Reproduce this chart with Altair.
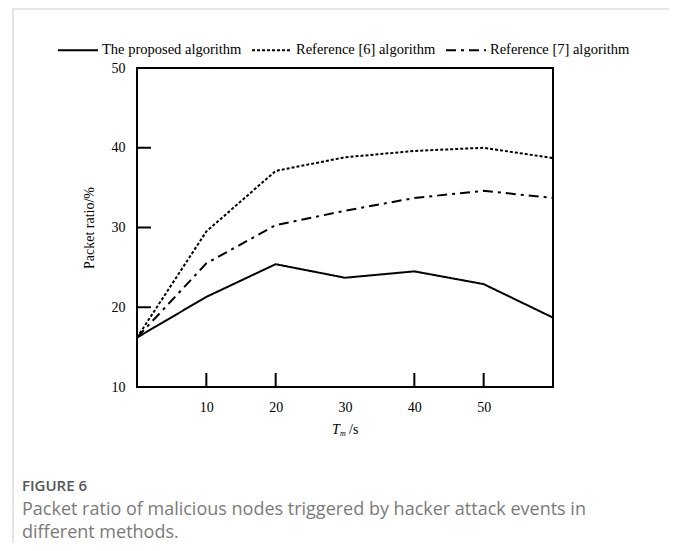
import altair as alt
import pandas as pd

# ---- data ----
time_s = [0, 10, 20, 30, 40, 50, 60]
proposed = [16.2, 21.3, 25.4, 23.7, 24.5, 22.9, 18.7]
ref6 = [16.2, 29.5, 37.1, 38.8, 39.6, 40.0, 38.7]
ref7 = [16.2, 25.5, 30.3, 32.1, 33.7, 34.6, 33.7]
series_names = ["The proposed algorithm", "Reference [6] algorithm", "Reference [7] algorithm"]
x_tick_labels = [10, 20, 30, 40, 50]
y_tick_labels = [10, 20, 30, 40, 50]
x_tick_marks = [10, 20, 40, 50]
y_tick_marks = [20, 30, 40]
caption_title = "FIGURE 6"
caption_lines = ["Packet ratio of malicious nodes triggered by hacker attack events in",
                 "different methods."]

rows = []
for name, vals in zip(series_names, [proposed, ref6, ref7]):
    for t, v in zip(time_s, vals):
        rows.append({"t": t, "v": v, "series": name})
df = pd.DataFrame(rows)

W, H = 416, 319
SERIF = "Liberation Serif"
SANS = "Open Sans"

xscale = alt.Scale(domain=[0, 60], nice=False, zero=False)
yscale = alt.Scale(domain=[10, 50], nice=False, zero=False)

x_axis = alt.Axis(values=x_tick_labels, ticks=False, domain=False, grid=False,
                  labelFont=SERIF, labelFontSize=14, labelFontWeight="normal", labelColor="black",
                  labelPadding=13, title=None)
y_axis = alt.Axis(values=y_tick_labels, ticks=False, domain=False, grid=False,
                  labelFont=SERIF, labelFontSize=14, labelFontWeight="normal", labelColor="black",
                  labelPadding=12, title="Packet ratio/%", titleFont=SERIF,
                  titleFontSize=14, titleFontWeight="normal", titleColor="black",
                  titlePadding=15)

dummy = pd.DataFrame({"a": [0]})

border = alt.Chart(dummy).mark_rect(filled=False, stroke="#dddddd", strokeWidth=1.5).encode(
    x=alt.value(-124), x2=alt.value(536), y=alt.value(-59), y2=alt.value(540)
)

lines = alt.Chart(df).mark_line(color="black", strokeWidth=2).encode(
    x=alt.X("t:Q", scale=xscale, axis=x_axis),
    y=alt.Y("v:Q", scale=yscale, axis=y_axis),
    strokeDash=alt.StrokeDash("series:N",
                              scale=alt.Scale(domain=series_names,
                                              range=[[1, 0], [3, 2], [10, 5, 3, 5]]),
                              legend=alt.Legend(title=None, orient="none", legendX=-80, legendY=-39,
                                                direction="horizontal", symbolType="stroke",
                                                symbolSize=1600, symbolStrokeWidth=2,
                                                symbolStrokeColor="black",
                                                labelFont=SERIF, labelFontSize=14.5, labelColor="black",
                                                labelFontWeight="normal",
                                                labelOffset=3, columnPadding=6, padding=0,
                                                labelLimit=300)),
    order="t:Q",
)

xt = alt.Chart(pd.DataFrame({"t": x_tick_marks})).mark_rule(color="black", strokeWidth=2).encode(
    x=alt.X("t:Q", scale=xscale, axis=None), y=alt.value(H), y2=alt.value(H - 14)
)
yt = alt.Chart(pd.DataFrame({"v": y_tick_marks})).mark_rule(color="black", strokeWidth=2).encode(
    y=alt.Y("v:Q", scale=yscale, axis=None), x=alt.value(0), x2=alt.value(14)
)

xt_T = alt.Chart(dummy).mark_text(text="T", font=SERIF, fontStyle="italic", fontSize=14,
                                   align="left", baseline="middle", color="black").encode(
    x=alt.value(195), y=alt.value(362))
xt_m = alt.Chart(dummy).mark_text(text="m", font=SERIF, fontStyle="italic", fontSize=8,
                                   align="left", baseline="middle", color="black").encode(
    x=alt.value(203), y=alt.value(366))
xt_s = alt.Chart(dummy).mark_text(text="/s", font=SERIF, fontSize=14,
                                   align="left", baseline="middle", color="black").encode(
    x=alt.value(212), y=alt.value(362))

cap_title = alt.Chart(dummy).mark_text(text=caption_title, font=SANS, fontWeight=600, fontSize=15,
                                       align="left", baseline="middle", color="#555555").encode(
    x=alt.value(-115), y=alt.value(418))
cap1 = alt.Chart(dummy).mark_text(text=caption_lines[0], font=SANS, fontSize=18,
                                  align="left", baseline="alphabetic", color="#7a7a7a").encode(
    x=alt.value(-115), y=alt.value(447))
cap2 = alt.Chart(dummy).mark_text(text=caption_lines[1], font=SANS, fontSize=18,
                                  align="left", baseline="alphabetic", color="#7a7a7a").encode(
    x=alt.value(-115), y=alt.value(470))

chart = alt.layer(border, lines, xt, yt, xt_T, xt_m, xt_s, cap_title, cap1, cap2).properties(
    width=W, height=H,
    autosize=alt.AutoSizeParams(type="none"),
    padding={"left": 129, "top": 60, "right": 116, "bottom": 156},
    background="white",
).resolve_axis(x="independent", y="independent").configure_view(stroke="black", strokeWidth=2)

chart.save("out.html", embed_options={"renderer": "svg", "actions": False})
